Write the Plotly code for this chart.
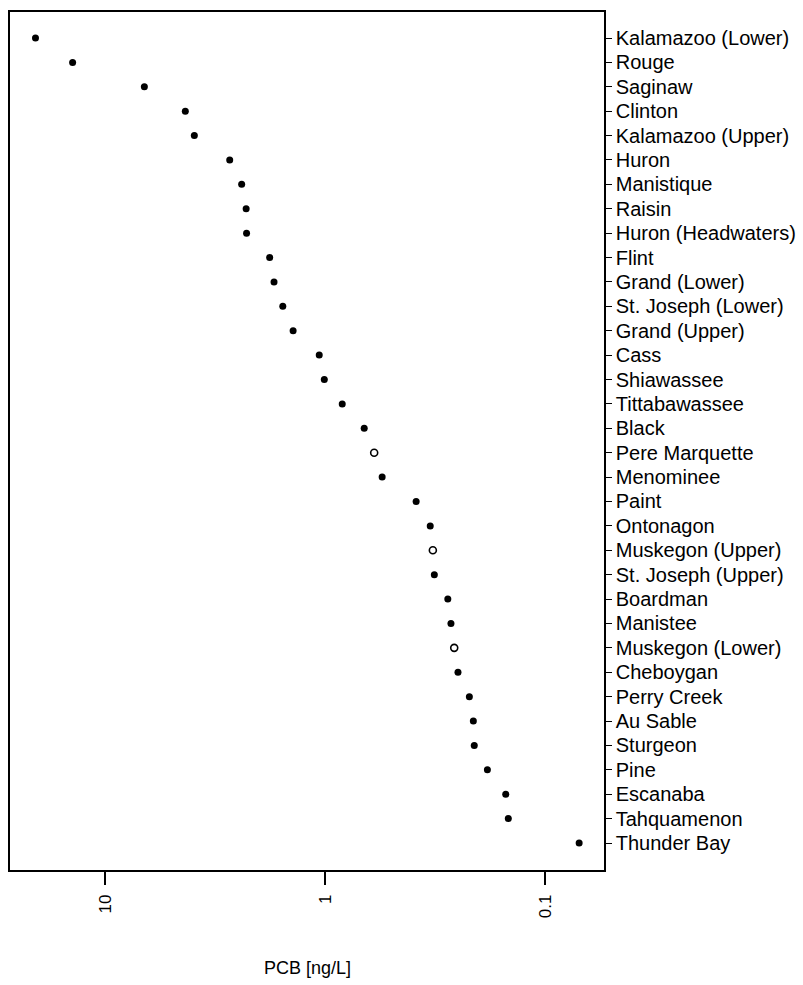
import plotly.graph_objects as go

# PCB concentrations by river (ng/L), ordered from highest to lowest
rivers = [
    "Kalamazoo (Lower)", "Rouge", "Saginaw", "Clinton", "Kalamazoo (Upper)",
    "Huron", "Manistique", "Raisin", "Huron (Headwaters)", "Flint",
    "Grand (Lower)", "St. Joseph (Lower)", "Grand (Upper)", "Cass", "Shiawassee",
    "Tittabawassee", "Black", "Pere Marquette", "Menominee", "Paint",
    "Ontonagon", "Muskegon (Upper)", "St. Joseph (Upper)", "Boardman", "Manistee",
    "Muskegon (Lower)", "Cheboygan", "Perry Creek", "Au Sable", "Sturgeon",
    "Pine", "Escanaba", "Tahquamenon", "Thunder Bay",
]
pcb = [
    20.8, 14.1, 6.65, 4.33, 3.94,
    2.72, 2.40, 2.29, 2.28, 1.79,
    1.71, 1.56, 1.40, 1.065, 1.01,
    0.837, 0.665, 0.599, 0.551, 0.386,
    0.333, 0.324, 0.319, 0.277, 0.268,
    0.259, 0.249, 0.221, 0.212, 0.210,
    0.183, 0.151, 0.147, 0.070,
]
# rivers drawn with an open symbol
open_symbol = {"Pere Marquette", "Muskegon (Upper)", "Muskegon (Lower)"}

x_tick_vals = [10, 1, 0.1]
x_tick_text = ["10", "1", "0.1"]

solid_x = [v for r, v in zip(rivers, pcb) if r not in open_symbol]
solid_y = [r for r in rivers if r not in open_symbol]
open_x = [v for r, v in zip(rivers, pcb) if r in open_symbol]
open_y = [r for r in rivers if r in open_symbol]

FONT = "Liberation Sans, Arial, sans-serif"

fig = go.Figure()
fig.add_trace(go.Scatter(
    x=solid_x, y=solid_y, mode="markers",
    marker=dict(symbol="circle", size=7, color="black"),
    showlegend=False,
))
fig.add_trace(go.Scatter(
    x=open_x, y=open_y, mode="markers",
    marker=dict(symbol="circle-open", size=7, color="black", line=dict(width=1.6)),
    showlegend=False,
))

fig.update_layout(
    width=803, height=985,
    margin=dict(l=10, r=199, t=12, b=115),
    paper_bgcolor="white", plot_bgcolor="white",
    font=dict(family=FONT, size=18, color="black"),
    xaxis=dict(
        type="log", range=[1.434, -1.268],
        tickvals=x_tick_vals, ticktext=x_tick_text,
        tickangle=-90, ticks="outside", ticklen=13, tickwidth=1.5,
        tickcolor="black", ticklabelstandoff=3, automargin=False,
        showline=True, linecolor="black", linewidth=1.5, mirror=True,
        showgrid=False, zeroline=False,
        tickfont=dict(size=17),
    ),
    yaxis=dict(
        type="category", categoryorder="array", categoryarray=rivers,
        range=[33 + 27 / 24.39, -26 / 24.39],
        side="right", ticks="outside", ticklen=6, tickwidth=1.2,
        tickcolor="black", automargin=False,
        showline=True, linecolor="black", linewidth=1.5, mirror=True,
        showgrid=False, zeroline=False,
        tickfont=dict(size=20),
    ),
    annotations=[dict(
        text="PCB [ng/L]", x=0.5, xref="paper", y=-98 / 858, yref="paper",
        xanchor="center", yanchor="middle", showarrow=False,
        font=dict(size=18),
    )],
)

fig.write_html("out.html")
